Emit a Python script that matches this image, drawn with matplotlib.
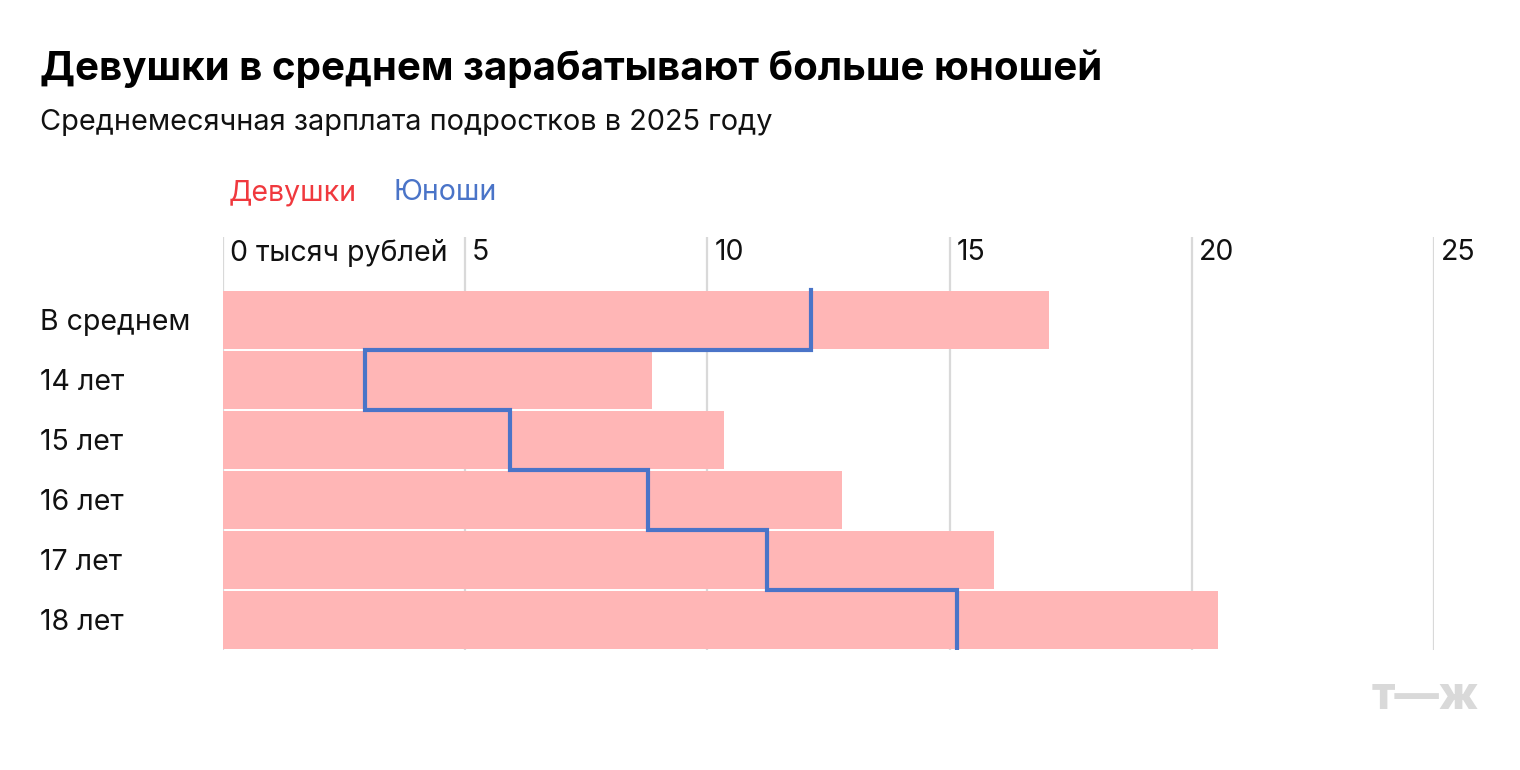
import matplotlib.pyplot as plt
import numpy as np

# данные
rows = ['В среднем', '14 лет', '15 лет', '16 лет', '17 лет', '18 лет']
girls = [17.05, 8.86, 10.34, 12.78, 15.92, 20.54]
boys = [12.14, 2.93, 5.92, 8.77, 11.23, 15.15]
ticks = [0, 5, 10, 15, 20, 25]
tick_labels = ['0 тысяч рублей', '5', '10', '15', '20', '25']

title = 'Девушки в среднем зарабатывают больше юношей'
subtitle = 'Среднемесячная зарплата подростков в 2025 году'

W, H = 1520, 770
plt.rcParams['font.family'] = ['Inter', 'DejaVu Sans']
FS = 20.5

fig = plt.figure(figsize=(W / 100, H / 100), dpi=100)
fig.patch.set_facecolor('white')

def fy(y):
	return 1 - y / H

# axes: x 0..25 -> px 223..1434, rows 60px each, row 0 centered at y=320
ax = fig.add_axes([223 / W, (H - 650) / H, (1434 - 223) / W, (650 - 237) / H])
ax.set_xlim(0, 25)
ax.set_ylim(5.5, -1.383)
ax.axis('off')

for t, lbl in zip(ticks, tick_labels):
	ax.plot([t, t], [-1.383, 5.5], color='#d9d9d9', lw=1.6, zorder=0, solid_capstyle='butt')
	ax.annotate(lbl, (t, -1.12), xytext=(7, 0), textcoords='offset pixels',
		fontsize=FS, color='#111111', va='center', ha='left',
		bbox=dict(facecolor='white', edgecolor='none', pad=0) if t == 0 else None)

y = np.arange(len(rows))
ax.barh(y, girls, height=0.967, color='#ffb6b6', edgecolor='none', zorder=2)

# ступенчатая линия юношей
xs, ys = [], []
for i, m in enumerate(boys):
	xs += [m, m]
	ys += [i - 0.5, i + 0.5]
ax.plot(xs, ys, color='#4a74c8', lw=3, zorder=3, solid_joinstyle='miter')

for i, r in enumerate(rows):
	fig.text(40 / W, fy(322 + 60 * i), r, fontsize=FS, color='#111111', va='center', ha='left')

fig.text(40 / W, fy(80), title, fontsize=29, fontweight='bold', color='black', va='baseline')
fig.text(40 / W, fy(130), subtitle, fontsize=20.8, color='#111111', va='baseline')
fig.text(229 / W, fy(200), 'Девушки', fontsize=FS, color='#f0393e', va='baseline')
fig.text(393 / W, fy(200), 'Юноши', fontsize=FS, color='#4a74c8', va='baseline')
fig.text(1479 / W, fy(709), 'т—ж', fontsize=32, fontweight='heavy', color='#d9d9d9', va='baseline', ha='right')

plt.savefig('out.png', dpi=100)
